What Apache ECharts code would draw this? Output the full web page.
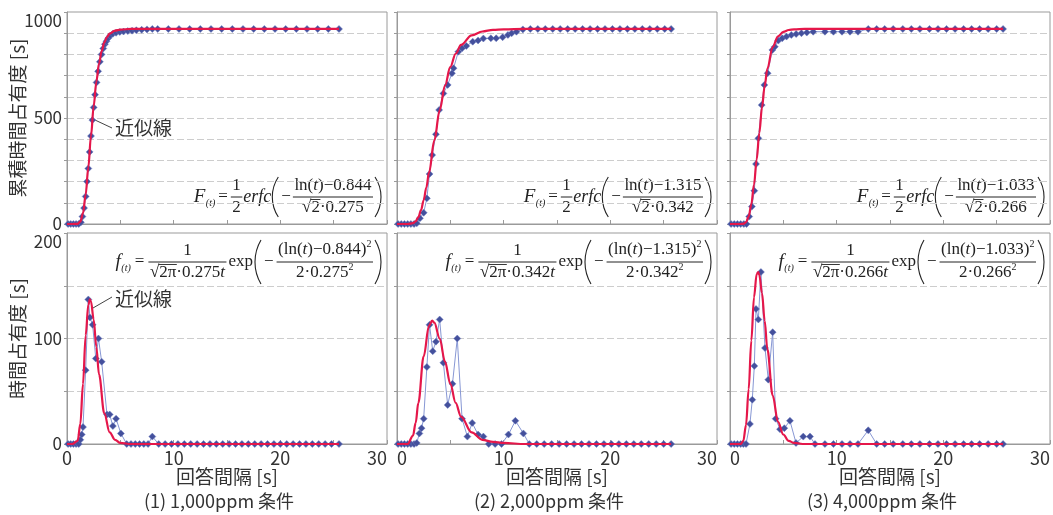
<!DOCTYPE html>
<html lang="ja">
<head>
<meta charset="utf-8">
<title>回答間隔と時間占有度</title>
<script src="https://cdn.jsdelivr.net/npm/echarts@6/dist/echarts.min.js"></script>
<style>
  html, body { margin: 0; padding: 0; background: #fff; }
  #chart { width: 1053px; height: 515px; }
</style>
</head>
<body>
<div id="chart"></div>
<script>
(function () {
  // conditions and fitted lognormal parameters (shown in the formulas)
  const conditions = ["(1) 1,000ppm 条件", "(2) 2,000ppm 条件", "(3) 4,000ppm 条件"];
  const fitMu = ["0.844", "1.315", "1.033"];
  const fitSigma = ["0.275", "0.342", "0.266"];

  const xTickLabels = [0, 10, 20, 30];
  const cumTickLabels = [0, 500, 1000];
  const occTickLabels = [0, 100, 200];

  // measured cumulative occupancy [s] vs answer interval [s]
  const cumData1 = [[0.1,0],[0.35,0],[0.6,0],[0.85,0],[1.1,0],[1.3,8],[1.45,35],[1.6,75],[1.75,130],[1.88,200],[2.0,262],[2.12,340],[2.25,415],[2.38,490],[2.5,550],[2.63,610],[2.77,668],[2.92,720],[3.08,765],[3.24,800],[3.4,828],[3.55,848],[3.7,862],[3.86,876],[4.05,888],[4.3,897],[4.6,902],[4.95,906],[5.3,908],[5.7,910],[6.1,912],[6.5,914],[7.0,916],[7.5,918],[8.0,920],[8.5,920],[9.5,920],[10.5,920],[11.5,920],[12.5,920],[13.5,920],[14.5,920],[15.5,920],[16.5,920],[17.5,920],[18.5,920],[19.5,920],[20.5,920],[21.5,920],[22.5,920],[23.5,920],[24.5,920],[25.5,920]];
  const cumData2 = [[0.1,0],[0.4,0],[0.7,0],[1.0,0],[1.3,0],[1.6,0],[1.85,3],[2.15,27],[2.5,53],[2.8,121],[3.05,236],[3.3,325],[3.65,423],[3.95,538],[4.35,616],[4.75,656],[5.15,711],[5.3,735],[5.75,813],[6.1,829],[6.5,840],[7.1,860],[7.6,866],[8.1,875],[8.8,876],[9.3,876],[9.9,881],[10.4,892],[10.75,900],[11.2,907],[11.8,918],[12.5,920],[13.2,920],[13.9,920],[14.6,920],[15.3,920],[16.0,920],[16.7,920],[17.4,920],[18.1,920],[18.8,920],[19.5,920],[20.2,920],[20.9,920],[21.6,920],[22.3,920],[23.0,920],[23.7,920],[24.4,920],[25.1,920],[25.7,920]];
  const cumData3 = [[0.1,0],[0.4,0],[0.7,0],[1.0,0],[1.3,0],[1.55,0],[1.8,35],[2.05,82],[2.28,157],[2.44,283],[2.66,404],[2.97,561],[3.22,656],[3.53,711],[3.97,821],[4.2,836],[4.53,865],[4.9,876],[5.3,884],[5.75,892],[6.2,896],[6.7,900],[7.2,903],[7.8,907],[8.9,907],[9.7,907],[10.5,907],[11.25,907],[12.0,907],[12.96,920],[13.75,920],[14.5,920],[15.3,920],[16.2,920],[17.0,920],[17.8,920],[18.7,920],[19.5,920],[20.3,920],[21.1,920],[21.9,920],[22.65,920],[23.4,920],[24.2,920],[25.0,920],[25.6,920]];

  // measured occupancy [s] vs answer interval [s]
  const occData1 = [[0.1,0],[0.35,0],[0.6,0],[0.85,0],[1.1,0],[1.25,4],[1.38,9],[1.5,16],[1.75,70],[2.0,137],[2.15,120],[2.4,113],[2.7,81],[2.95,100],[3.25,78],[3.75,28],[4.0,28],[4.3,17],[4.6,24],[5.05,10],[5.6,0],[6.0,0],[6.4,0],[6.8,0],[7.2,0],[7.6,0],[8.0,7],[8.6,0],[9.2,0],[9.8,0],[10.4,0],[11.0,0],[11.6,0],[12.2,0],[12.8,0],[13.4,0],[14.0,0],[14.6,0],[15.2,0],[15.8,0],[16.4,0],[17.0,0],[17.6,0],[18.2,0],[18.8,0],[19.4,0],[20.0,0],[20.6,0],[21.2,0],[21.8,0],[22.4,0],[23.0,0],[23.6,0],[24.2,0],[24.8,0],[25.5,0]];
  const occData2 = [[0.1,0],[0.4,0],[0.7,0],[1.0,0],[1.3,0],[1.6,0],[1.85,1],[2.1,10],[2.3,15],[2.5,24],[2.8,73],[3.05,113],[3.35,88],[3.65,97],[4.0,118],[4.35,77],[4.75,37],[5.2,57],[5.65,100],[6.1,24],[6.6,7],[7.05,20],[7.6,9],[8.1,7],[8.6,0],[9.2,0],[9.8,0],[10.45,9],[11.1,22],[11.85,10],[12.4,0],[13.1,0],[13.8,0],[14.5,0],[15.2,0],[15.9,0],[16.6,0],[17.3,0],[18.0,0],[18.7,0],[19.4,0],[20.1,0],[20.8,0],[21.5,0],[22.2,0],[22.9,0],[23.6,0],[24.3,0],[25.0,0],[25.7,0]];
  const occData3 = [[0.1,0],[0.4,0],[0.7,0],[1.0,0],[1.25,0],[1.5,0],[1.87,19],[2.09,42],[2.28,74],[2.44,128],[2.66,118],[2.9,163],[3.28,91],[3.59,61],[4.0,106],[4.28,24],[4.69,14],[5.09,15],[5.62,22],[6.19,1],[6.87,7],[7.5,7],[7.97,0],[8.9,0],[9.7,0],[10.5,0],[11.25,0],[12.0,0],[12.96,13],[13.75,0],[14.5,0],[15.3,0],[16.2,0],[17.0,0],[17.8,0],[18.7,0],[19.5,0],[20.3,0],[21.1,0],[21.9,0],[22.65,0],[23.4,0],[24.2,0],[25.0,0],[25.6,0]];

  // approximation lines (近似線)
  const cumFit1 = [[0,0],[0.5,0],[1.0,1],[1.25,11],[1.5,51],[1.75,139],[2.0,268],[2.25,416],[2.5,555],[2.75,671],[3.0,757],[3.25,815],[3.5,857],[3.75,882],[4.0,898],[4.5,912],[5.0,917],[6.0,920],[8.0,920],[12,920],[18,920],[25.5,920]];
  const cumFit2 = [[0,0],[0.5,0],[1.0,0],[1.5,4],[1.75,13],[2.0,32],[2.25,65],[2.5,112],[2.75,172],[3.0,242],[3.5,394],[4.0,536],[4.5,653],[5.0,741],[5.5,803],[6.0,845],[7.0,890],[8.0,908],[9.0,916],[10,918],[12,920],[18,920],[25.7,920]];
  const cumFit3 = [[0,0],[0.5,0],[1.0,0],[1.25,1],[1.5,8],[1.75,35],[2.0,93],[2.25,186],[2.5,304],[2.75,430],[3.0,550],[3.25,651],[3.5,732],[4.0,835],[4.5,885],[5.0,906],[5.5,915],[6.0,918],[7.0,920],[10,920],[18,920],[25.6,920]];
  const occFit1 = [[0,0],[0.5,0],[1.0,3],[1.25,19],[1.5,57],[1.75,103],[2.0,132],[2.15,137],[2.25,135],[2.5,118],[2.75,92],[3.0,66],[3.5,29],[4.0,11],[4.5,4],[5.0,1],[6.0,0],[8,0],[12,0],[18,0],[25.5,0]];
  const occFit2 = [[0,0],[0.5,0],[1.0,0],[1.5,8],[1.75,20],[2.0,39],[2.5,83],[3.0,112],[3.3,117],[3.5,115],[4.0,100],[4.5,78],[5.0,57],[5.5,39],[6.0,26],[7.0,11],[8.0,4],[9.0,2],[10,1],[12,0],[18,0],[25.7,0]];
  const occFit3 = [[0,0],[0.5,0],[1.0,0],[1.25,3],[1.5,18],[1.75,52],[2.0,98],[2.25,139],[2.5,161],[2.65,163],[2.75,160],[3.0,143],[3.25,117],[3.5,90],[4.0,46],[4.5,21],[5.0,9],[5.5,3],[6.0,1],[7.0,0],[10,0],[18,0],[25.6,0]];

  const cumData = [cumData1, cumData2, cumData3];
  const occData = [occData1, occData2, occData3];
  const cumFit = [cumFit1, cumFit2, cumFit3];
  const occFit = [occFit1, occFit2, occFit3];

  const sans = '"Noto Sans CJK JP", "Noto Sans", sans-serif';
  const serif = '"Liberation Serif", "DejaVu Serif", serif';
  const colLeft = [67, 397, 730];
  const plotWidth = 320;
  const rowTop = [12, 233];
  const rowHeight = [212, 211];
  const ink = "#222";

  const measureCtx = document.createElement("canvas").getContext("2d");
  function textWidth(text, f) {
    measureCtx.font = f;
    return measureCtx.measureText(text).width;
  }

  function font(size, italic) {
    return (italic ? "italic " : "") + size + "px " + serif;
  }

  function txt(x, y, text, f, align, extra) {
    return {
      type: "text",
      x: x,
      y: y,
      silent: true,
      style: Object.assign({
        text: text,
        font: f,
        fill: ink,
        align: align || "left",
        textAlign: align || "left",
        verticalAlign: "middle",
        textVerticalAlign: "middle"
      }, extra || {})
    };
  }

  function bar(x1, y, x2, width) {
    return {
      type: "line",
      silent: true,
      shape: { x1: x1, y1: y, x2: x2, y2: y },
      style: { stroke: ink, lineWidth: width || 1 }
    };
  }

  // thin tall bracket drawn as a circular arc
  function paren(x, cy, h, left) {
    const d = 6;
    const r = (h * h / 4 + d * d) / (2 * d);
    const a = Math.asin(h / 2 / r);
    return {
      type: "arc",
      silent: true,
      shape: left
        ? { cx: x + r, cy: cy, r: r, startAngle: Math.PI - a, endAngle: Math.PI + a, clockwise: true }
        : { cx: x + d - r, cy: cy, r: r, startAngle: -a, endAngle: a, clockwise: true },
      style: { stroke: ink, lineWidth: 1.1, fill: null }
    };
  }

  function piecesWidth(pieces) {
    return pieces.reduce((s, p) => s + textWidth(p[0], p[1]), 0);
  }

  // pieces: [text, font, overline?] laid out left to right, centred on cx
  function runCentered(pieces, cx, y, els) {
    const total = piecesWidth(pieces);
    let x = cx - total / 2;
    pieces.forEach((p) => {
      const w = textWidth(p[0], p[1]);
      els.push(txt(x, y, p[0], p[1]));
      if (p[2]) els.push(bar(x - 0.5, y - 8.5, x + w + 0.5, 0.9));
      x += w;
    });
    return total;
  }

  function fraction(num, den, x, y0, numDy, denDy, els) {
    const fw = Math.max(piecesWidth(num), piecesWidth(den)) + 3;
    const cx = x + fw / 2;
    runCentered(num, cx, y0 - numDy, els);
    els.push(bar(x, y0, x + fw));
    runCentered(den, cx, y0 + denDy, els);
    return fw;
  }

  function cumFormula(right, y0, mu, sg) {
    const els = [];
    const f17 = font(17);
    let x = 0;
    els.push(txt(x, y0, "F", font(19, true))); x += textWidth("F", font(19, true)) + 0.5;
    els.push(txt(x, y0 + 6, "(t)", font(10, true))); x += textWidth("(t)", font(10, true)) + 3;
    els.push(txt(x, y0, "=", f17)); x += textWidth("=", f17) + 3;
    x += fraction([["1", f17]], [["2", f17]], x, y0, 11, 11, els) + 1;
    els.push(txt(x, y0, "erfc", font(18, true))); x += textWidth("erfc", font(18, true)) + 1;
    els.push(paren(x, y0, 40, true)); x += 9;
    els.push(txt(x, y0, "−", f17)); x += textWidth("−", f17) + 2;
    x += fraction(
      [["ln(", f17], ["t", font(17, true)], [")−" + mu, f17]],
      [["√", f17], ["2", f17, true], ["·" + sg, f17]],
      x, y0, 11, 11, els) + 2;
    els.push(paren(x, y0, 40, false)); x += 7;
    return { type: "group", x: right - 5 - x, y: 0, children: els };
  }

  function occFormula(right, y0, mu, sg) {
    const els = [];
    const f17 = font(17);
    let x = 0;
    els.push(txt(x, y0, "f", font(19, true))); x += textWidth("f", font(19, true)) + 0.5;
    els.push(txt(x, y0 + 6, "(t)", font(10, true))); x += textWidth("(t)", font(10, true)) + 4;
    els.push(txt(x, y0, "=", f17)); x += textWidth("=", f17) + 4;
    x += fraction(
      [["1", f17]],
      [["√", f17], ["2π", f17, true], ["·" + sg, f17], ["t", font(17, true)]],
      x, y0, 11, 11, els) + 2;
    els.push(txt(x, y0, "exp", f17)); x += textWidth("exp", f17) + 2;
    els.push(paren(x, y0, 44, true)); x += 9;
    els.push(txt(x, y0, "−", f17)); x += textWidth("−", f17) + 3;
    x += fraction(
      [["(ln(", f17], ["t", font(17, true)], [")−" + mu + ")", f17], ["2", font(10)]],
      [["2·" + sg, f17], ["2", font(10)]],
      x, y0, 12, 11, els) + 2;
    els.push(paren(x, y0, 44, false)); x += 7;
    // lift the small "2" superscripts
    els.forEach((e) => {
      if (e.type === "text" && e.style.text === "2" && e.style.font === font(10)) e.y -= 6;
    });
    return { type: "group", x: right - 5 - x, y: 0, children: els };
  }

  function buildAxes() {
    const grids = [];
    const xAxes = [];
    const yAxes = [];
    for (let row = 0; row < 2; row++) {
      for (let col = 0; col < 3; col++) {
        const i = row * 3 + col;
        grids.push({
          left: colLeft[col],
          top: rowTop[row],
          width: plotWidth,
          height: rowHeight[row],
          show: true,
          borderColor: "#9a9a9a",
          borderWidth: 1,
          containLabel: false
        });
        xAxes.push({
          type: "value",
          gridIndex: i,
          min: 0,
          max: 30,
          interval: 5,
          axisLine: { show: true, onZero: false, lineStyle: { color: "#9a9a9a" } },
          axisTick: { show: true, inside: true, length: 4, lineStyle: { color: "#9a9a9a" } },
          axisLabel: {
            show: row === 1,
            color: "#333",
            fontSize: 18,
            fontFamily: sans,
            margin: 5,
            alignMinLabel: col === 0 ? "center" : "left",
            alignMaxLabel: "right",
            formatter: (v) => (xTickLabels.includes(v) ? String(v) : "")
          },
          splitLine: { show: false }
        });
        const labels = row === 0 ? cumTickLabels : occTickLabels;
        yAxes.push({
          type: "value",
          gridIndex: i,
          min: 0,
          max: row === 0 ? 1000 : 200,
          interval: row === 0 ? 100 : 50,
          name: col === 0 ? (row === 0 ? "累積時間占有度 [s]" : "時間占有度 [s]") : "",
          nameLocation: "middle",
          nameRotate: 90,
          nameGap: 40,
          nameMoveOverlap: false,
          nameTextStyle: { fontSize: 19, color: "#333", fontFamily: sans },
          axisLine: { show: true, lineStyle: { color: "#9a9a9a" } },
          axisTick: { show: true, length: 3, lineStyle: { color: "#9a9a9a" } },
          axisLabel: {
            show: col === 0,
            color: "#333",
            fontSize: 17,
            fontFamily: sans,
            margin: 5,
            verticalAlignMaxLabel: "top",
            formatter: (v) => (labels.includes(v) ? String(v) : "")
          },
          splitLine: { show: true, lineStyle: { color: "#cdcdcd", type: [7, 3], width: 1 } }
        });
      }
    }
    return { grids, xAxes, yAxes };
  }

  function buildSeries() {
    const series = [];
    for (let row = 0; row < 2; row++) {
      for (let col = 0; col < 3; col++) {
        const i = row * 3 + col;
        series.push({
          type: "line",
          xAxisIndex: i,
          yAxisIndex: i,
          data: row === 0 ? cumData[col] : occData[col],
          symbol: "diamond",
          symbolSize: 7,
          lineStyle: { color: "#8797d4", width: 1 },
          itemStyle: { color: "#44509c", borderColor: "#6d7cc0", borderWidth: 0.5 },
          z: 2
        });
        series.push({
          type: "line",
          xAxisIndex: i,
          yAxisIndex: i,
          data: row === 0 ? cumFit[col] : occFit[col],
          symbol: "none",
          smooth: 0.35,
          smoothMonotone: "x",
          lineStyle: { color: "#e5174a", width: 2.2 },
          z: 3
        });
      }
    }
    return series;
  }

  function buildGraphics() {
    const els = [];
    for (let col = 0; col < 3; col++) {
      const right = colLeft[col] + plotWidth;
      const center = colLeft[col] + plotWidth / 2;
      els.push(cumFormula(right, 197, fitMu[col], fitSigma[col]));
      els.push(occFormula(right, 262, fitMu[col], fitSigma[col]));
      els.push(txt(center, 477, "回答間隔 [s]", "19px " + sans, "center", { fill: "#333" }));
      els.push(txt(center - 8, 501, conditions[col], "18px " + sans, "center", { fill: "#333" }));
    }
    // 近似線 callouts
    els.push({ type: "line", silent: true, shape: { x1: 95, y1: 120, x2: 112, y2: 128 }, style: { stroke: "#444", lineWidth: 1 } });
    els.push(txt(115, 128, "近似線", "19px " + sans, "left", { fill: "#333" }));
    els.push({ type: "line", silent: true, shape: { x1: 93, y1: 308, x2: 112, y2: 297 }, style: { stroke: "#444", lineWidth: 1 } });
    els.push(txt(115, 299, "近似線", "19px " + sans, "left", { fill: "#333" }));
    return els;
  }

  document.addEventListener("DOMContentLoaded", () => {
    const chart = echarts.init(document.getElementById("chart"), null, { renderer: "canvas" });
    const { grids, xAxes, yAxes } = buildAxes();
    chart.setOption({
      animation: false,
      backgroundColor: "#fff",
      grid: grids,
      xAxis: xAxes,
      yAxis: yAxes,
      series: buildSeries(),
      graphic: { elements: buildGraphics() }
    });
  });
})();
</script>
</body>
</html>
